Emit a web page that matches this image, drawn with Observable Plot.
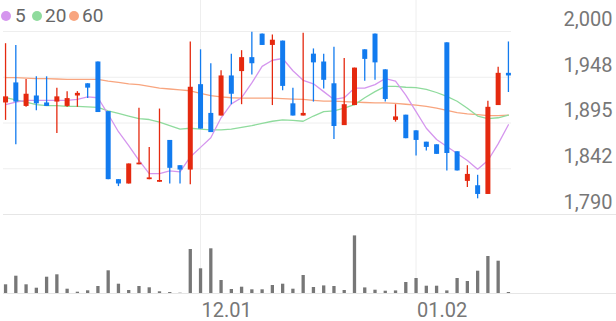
<!DOCTYPE html>
<html>
<head>
<meta charset="utf-8">
<script src="https://cdn.jsdelivr.net/npm/d3@7"></script>
<script src="https://cdn.jsdelivr.net/npm/@observablehq/plot@0.6"></script>
<style>
  html, body { margin: 0; padding: 0; background: #fff; }
  #chart { position: relative; width: 616px; height: 321px; font-family: Roboto, sans-serif; overflow: hidden; }
  #chart svg { position: absolute; left: 0; overflow: visible; }
  .lg { position: absolute; top: 5.5px; font-size: 19px; line-height: 20px; color: #666; }
  .dot { position: absolute; top: 11px; width: 10px; height: 10px; border-radius: 50%; }
</style>
</head>
<body>
<div id="chart"></div>
<script>
// ---- data ----
const opens  = [1918,1941,1914,1926,1918,1919,1914,1926,1940,1965,1908,1830,1825,1847,1830,1827,1875,1846,1841,1939,1906,1903,1949,1954,1970,1997,1984,1989,1917,1903,1974,1965,1940,1892,1915,1979,1997,1956,1898,1904,1886,1873,1870,1987,1862,1828,1823,1813,1915,1952];
const closes = [1925,1919,1928,1917,1914,1925,1923,1929,1935,1907,1830,1825,1848,1849,1832,1829,1843,1841,1936,1888,1884,1949,1928,1970,1963,1984,1990,1937,1903,1906,1964,1944,1891,1916,1958,1968,1964,1922,1902,1877,1875,1867,1859,1860,1840,1836,1813,1913,1952,1949];
const highs  = [1986,1984,1945,1948,1948,1935,1931,1931,1940,1965,1908,1830,1848,1912,1867,1911,1875,1846,1988,1979,1963,1955,1974,1978,1999,1997,1996,1989,1935,1998,1980,1974,1982,1969,1958,1979,1997,1956,1916,1904,1886,1873,1870,1987,1862,1846,1835,1920,1959,1988];
const lows   = [1898,1870,1913,1909,1914,1883,1913,1913,1923,1907,1830,1822,1825,1847,1830,1827,1825,1825,1824,1888,1884,1903,1916,1916,1950,1984,1915,1932,1903,1903,1919,1934,1876,1892,1915,1943,1944,1919,1896,1877,1857,1863,1859,1840,1840,1821,1808,1813,1915,1930];
const ma5    = [1916,1919,1921,1921,1921,1921,1921,1922,1925,1924,1905,1885,1869,1852,1837,1837,1840,1839,1856,1867,1878,1901,1917,1924,1941,1960,1967,1969,1955,1944,1940,1931,1922,1924,1935,1935,1939,1946,1943,1927,1908,1889,1876,1868,1860,1852,1842,1852,1871,1893];
const ma20   = [1924,1921.5,1919,1916,1915,1915,1914,1914,1913.5,1913,1909,1906,1903,1900,1899,1896,1892,1888,1889,1888,1887,1887,1888,1890,1892,1894.5,1897,1898.5,1898,1897,1903,1908,1909,1912,1916,1924,1931,1937,1937,1936,1935.5,1933.5,1930,1925.5,1920,1912,1903,1900,1901,1904];
const ma60   = [1947,1947,1946.5,1946,1946,1945.5,1945,1945,1945,1945,1943,1941.5,1940,1939,1937,1935,1934,1933,1932,1929,1926.5,1925,1924,1923.5,1923.5,1923.5,1923.5,1923,1922.5,1922,1921,1920,1920,1919.5,1919,1918.5,1918,1918,1917.5,1916.5,1915.5,1914,1912,1909.5,1907,1905.5,1904.5,1903.5,1903.5,1904];
const volumes = [87,173,87,53,163,187,43,13,27,70,227,93,30,70,57,17,10,3,440,247,447,130,40,63,37,37,80,93,43,180,60,76,70,30,576,56,33,23,26,110,150,73,73,26,150,120,223,370,323,10];

const priceTicks  = [1790, 1842.5, 1895, 1947.5, 2000];
const priceLabels = ["1,790", "1,842", "1,895", "1,948", "2,000"];
const dateTicks   = [19, 40];
const dateLabels  = ["12.01", "01.02"];

const legendNames  = ["5", "20", "60"];
const legendColors = ["#d596ee", "#8fdb9d", "#f8a57f"];

// ---- layout ----
const W = 616, priceH = 216, volTop = 214, volH = 107;
const mL = 3, mR = 105, pTop = 31, pBottom = 2, vBottom = 28;
const xDomain = [-0.2, 49.3];
const pxPerIdx = (W - mL - mR) / (xDomain[1] - xDomain[0]);
const xFull = xDomain[1] + mR / pxPerIdx;
const yDomain = [priceTicks[0], priceTicks[priceTicks.length - 1]];
const pxPerPrice = (priceH - pTop - pBottom) / (yDomain[1] - yDomain[0]);
const yTopEdge = yDomain[1] + pTop / pxPerPrice;

const UP = "#e5290f", DOWN = "#127bef";
const idx = opens.map((_, i) => i);
const candles = idx.map(i => ({i, open: opens[i], close: closes[i], high: highs[i], low: lows[i], color: closes[i] >= opens[i] ? UP : DOWN}));
const mas = [ma5, ma20, ma60];
const priceLabelMap = new Map(priceTicks.map((t, k) => [t, priceLabels[k]]));
const dateLabelMap = new Map(dateTicks.map((t, k) => [t, dateLabels[k]]));
const grid = "#eeeeee", sep = "#e6e6e6", textCol = "#777";

const price = Plot.plot({
  width: W, height: priceH,
  marginLeft: mL, marginRight: mR, marginTop: pTop, marginBottom: pBottom,
  style: {fontFamily: "Roboto, sans-serif", background: "transparent"},
  x: {domain: xDomain, axis: null},
  y: {domain: yDomain, axis: null},
  marks: [
    Plot.ruleY(priceTicks.slice(1), {stroke: grid}),
    Plot.ruleY([yDomain[0]], {x1: xDomain[0], x2: xFull, stroke: sep}),
    Plot.ruleX(dateTicks, {y1: yDomain[0], y2: yTopEdge, stroke: grid}),
    ...[2, 1, 0].map(k => Plot.lineY(mas[k], {x: idx, y: mas[k], stroke: legendColors[k], strokeWidth: 1.3})),
    Plot.ruleX(candles, {x: "i", y1: "low", y2: "high", stroke: "color", strokeWidth: 1.3}),
    Plot.ruleX(candles, {x: "i", y1: "open", y2: "close", stroke: "color", strokeWidth: 5}),
    Plot.axisY(priceTicks, {anchor: "right", tickSize: 0, tickPadding: 3, textAnchor: "end", dx: 98, dy: -12,
      fontSize: 20, fill: textCol, tickFormat: d => priceLabelMap.get(d)})
  ]
});

const vol = Plot.plot({
  width: W, height: volH,
  marginLeft: mL, marginRight: mR, marginTop: 0, marginBottom: vBottom,
  style: {fontFamily: "Roboto, sans-serif", background: "transparent"},
  x: {domain: xDomain, axis: null},
  y: {domain: [0, 790], axis: null},
  marks: [
    Plot.ruleX(dateTicks, {stroke: grid}),
    Plot.ruleX(volumes, {x: idx, y1: 0, y2: volumes, stroke: "#777", strokeWidth: 3.3}),
    Plot.ruleY([0], {x1: xDomain[0], x2: xFull, stroke: sep}),
    Plot.axisX(dateTicks, {anchor: "bottom", tickSize: 0, tickPadding: 9, textAnchor: "start", dx: 1,
      fontSize: 20, fill: textCol, tickFormat: d => dateLabelMap.get(d)})
  ]
});

const chart = document.getElementById("chart");
price.style.top = "0px";
vol.style.top = volTop + "px";
chart.appendChild(price);
chart.appendChild(vol);

// legend
const dotLeft = [1, 32, 69], textLeft = [15, 45, 82];
legendNames.forEach((name, k) => {
  const d = document.createElement("span");
  d.className = "dot"; d.style.left = dotLeft[k] + "px"; d.style.background = legendColors[k];
  chart.appendChild(d);
  const t = document.createElement("span");
  t.className = "lg"; t.style.left = textLeft[k] + "px"; t.textContent = name;
  chart.appendChild(t);
});
</script>
</body>
</html>
